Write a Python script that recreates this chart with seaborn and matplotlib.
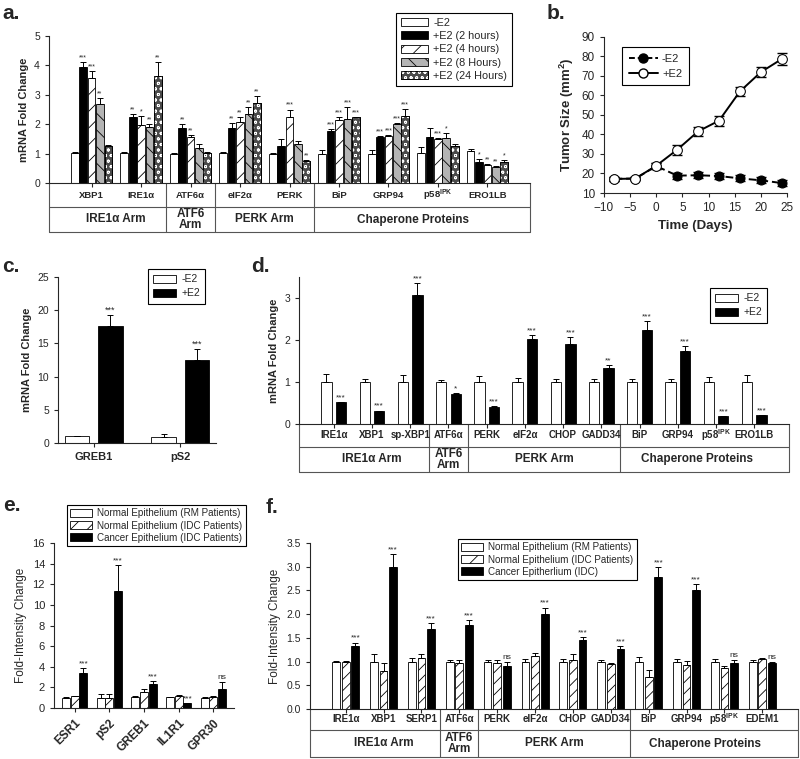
import matplotlib
matplotlib.use("Agg")
import matplotlib.pyplot as plt
from matplotlib.patches import Patch
from matplotlib.lines import Line2D
from matplotlib.ticker import FormatStrFormatter
import seaborn as sns
import pandas as pd
import numpy as np

sns.set_style("ticks")
plt.rcParams["font.family"] = ["Liberation Sans", "DejaVu Sans"]
plt.rcParams["mathtext.fontset"] = "custom"
plt.rcParams["mathtext.rm"] = "Liberation Sans"
plt.rcParams["mathtext.bf"] = "Liberation Sans:bold"
plt.rcParams["hatch.linewidth"] = 0.6
plt.rcParams["axes.linewidth"] = 0.8
plt.rcParams["xtick.major.width"] = 0.8
plt.rcParams["ytick.major.width"] = 0.8
plt.rcParams["xtick.major.size"] = 3
plt.rcParams["ytick.major.size"] = 3

# ---------------- data : panel a ----------------
a_genes = ["XBP1", "IRE1α", "ATF6α", "eIF2α", "PERK", "BiP", "GRP94", r"p58$^{\mathbf{IPK}}$", "ERO1LB"]
a_conds = ["-E2", "+E2 (2 hours)", "+E2 (4 hours)", "+E2 (8 Hours)", "+E2 (24 Hours)"]
a_minus = [1.02, 1.02, 1.00, 1.02, 1.00, 1.00, 1.00, 1.03, 1.10]
a_2h = [3.95, 2.25, 1.86, 1.86, 1.27, 1.76, 1.57, 1.57, 0.70]
a_4h = [3.57, 1.97, 1.57, 2.08, 2.23, 2.14, 1.60, 1.51, 0.60]
a_8h = [2.70, 1.92, 1.18, 2.36, 1.32, 2.19, 2.00, 1.54, 0.55]
a_24h = [1.26, 3.63, 1.02, 2.72, 0.75, 2.23, 2.27, 1.26, 0.72]
a_minus_err = [0.03, 0.02, 0.02, 0.05, 0.02, 0.12, 0.12, 0.18, 0.05]
a_2h_err = [0.15, 0.10, 0.15, 0.19, 0.21, 0.07, 0.03, 0.30, 0.10]
a_4h_err = [0.25, 0.30, 0.05, 0.17, 0.27, 0.09, 0.03, 0.03, 0.04]
a_8h_err = [0.20, 0.10, 0.15, 0.21, 0.10, 0.39, 0.05, 0.16, 0.03]
a_24h_err = [0.04, 0.47, 0.02, 0.24, 0.04, 0.02, 0.26, 0.05, 0.05]
a_minus_sig = [""] * 9
a_2h_sig = ["***", "**", "**", "**", "", "***", "***", "", "*"]
a_4h_sig = ["***", "*", "**", "**", "***", "***", "***", "***", "**"]
a_8h_sig = ["**", "**", "", "**", "", "***", "***", "*", "**"]
a_24h_sig = ["", "**", "", "**", "**", "***", "***", "", "*"]
a_groups = [("IRE1α Arm", 2), ("ATF6\nArm", 1), ("PERK Arm", 2), ("Chaperone Proteins", 4)]

# ---------------- data : panel b ----------------
b_days = [-8, -4, 0, 4, 8, 12, 16, 20, 24]
b_minus = [17.3, 17.4, 23.8, 18.9, 19.1, 18.7, 17.5, 16.5, 15.1]
b_minus_err = [1.0, 0.8, 1.5, 1.5, 1.5, 1.5, 1.5, 1.5, 1.5]
b_plus = [17.2, 17.4, 24.0, 32.2, 41.6, 47.1, 62.1, 72.0, 78.7]
b_plus_err = [1.0, 0.8, 1.5, 2.5, 2.5, 2.5, 2.5, 2.5, 3.0]

# ---------------- data : panel c ----------------
c_genes = ["GREB1", "pS2"]
c_conds = ["-E2", "+E2"]
c_minus = [1.00, 0.95]
c_plus = [17.6, 12.56]
c_minus_err = [0.10, 0.40]
c_plus_err = [1.7, 1.6]
c_plus_sig = ["***", "***"]

# ---------------- data : panel d ----------------
d_genes = ["IRE1α", "XBP1", "sp-XBP1", "ATF6α", "PERK", "eIF2α", "CHOP", "GADD34",
           "BiP", "GRP94", r"p58$^{\mathbf{IPK}}$", "ERO1LB"]
d_conds = ["-E2", "+E2"]
d_minus = [1.0, 1.0, 1.0, 1.0, 1.0, 1.0, 1.0, 1.0, 1.0, 1.0, 1.0, 1.0]
d_minus_err = [0.20, 0.08, 0.17, 0.05, 0.14, 0.10, 0.08, 0.08, 0.08, 0.08, 0.11, 0.16]
d_plus = [0.52, 0.32, 3.08, 0.71, 0.40, 2.02, 1.91, 1.33, 2.23, 1.73, 0.20, 0.22]
d_plus_err = [0.0, 0.0, 0.27, 0.03, 0.03, 0.10, 0.16, 0.07, 0.22, 0.12, 0.0, 0.0]
d_plus_sig = ["***", "***", "***", "*", "***", "***", "***", "**", "***", "***", "***", "***"]
d_groups = [("IRE1α Arm", 3), ("ATF6\nArm", 1), ("PERK Arm", 4), ("Chaperone Proteins", 4)]

# ---------------- data : panel e ----------------
e_genes = ["ESR1", "pS2", "GREB1", "IL1R1", "GPR30"]
e_conds = ["Normal Epithelium (RM Patients)", "Normal Epithelium (IDC Patients)",
           "Cancer Epithelium (IDC Patients)"]
e_rm = [1.00, 1.00, 1.07, 1.05, 1.00]
e_rm_err = [0.03, 0.33, 0.05, 0.03, 0.03]
e_idc = [1.13, 1.00, 1.52, 1.20, 1.10]
e_idc_err = [0.03, 0.40, 0.28, 0.05, 0.05]
e_cancer = [3.37, 11.36, 2.36, 0.48, 1.88]
e_cancer_err = [0.48, 2.49, 0.29, 0.0, 0.67]
e_cancer_sig = ["***", "***", "***", "***", "ns"]

# ---------------- data : panel f ----------------
f_genes = ["IRE1α", "XBP1", "SERP1", "ATF6α", "PERK", "eIF2α", "CHOP", "GADD34",
           "BiP", "GRP94", r"p58$^{\mathbf{IPK}}$", "EDEM1"]
f_conds = ["Normal Epithelium (RM Patients)", "Normal Epithelium (IDC Patients)",
           "Cancer Epitherlium (IDC)"]
f_rm = [1.0, 1.0, 1.0, 1.0, 1.0, 1.0, 1.0, 1.0, 1.0, 1.0, 1.0, 1.0]
f_rm_err = [0.02, 0.15, 0.07, 0.04, 0.04, 0.05, 0.05, 0.03, 0.09, 0.05, 0.05, 0.04]
f_idc = [1.00, 0.80, 1.08, 0.97, 0.98, 1.12, 1.04, 0.95, 0.68, 0.93, 0.86, 1.06]
f_idc_err = [0.02, 0.18, 0.09, 0.06, 0.05, 0.07, 0.12, 0.01, 0.14, 0.09, 0.04, 0.02]
f_cancer = [1.33, 3.00, 1.68, 1.77, 0.90, 2.00, 1.45, 1.27, 2.79, 2.50, 0.97, 0.96]
f_cancer_err = [0.07, 0.26, 0.14, 0.10, 0.09, 0.14, 0.07, 0.06, 0.21, 0.14, 0.06, 0.03]
f_cancer_sig = ["***", "***", "***", "***", "ns", "***", "***", "***", "***", "***", "ns", "ns"]
f_groups = [("IRE1α Arm", 3), ("ATF6\nArm", 1), ("PERK Arm", 4), ("Chaperone Proteins", 4)]

FIG_W, FIG_H = 800, 759


def fig_box(left, top, right, bottom):
    # pixel box -> figure fraction
    return [left / FIG_W, 1 - bottom / FIG_H, (right - left) / FIG_W, (bottom - top) / FIG_H]


def bar_panel(ax, genes, conds, values, errs, sigs, colors, hatches, width, gap, star_fs=5.5):
    df = pd.DataFrame({
        "gene": [g for c in conds for g in genes],
        "cond": [c for c in conds for g in genes],
        "value": [v for vals in values for v in vals],
    })
    sns.barplot(data=df, x="gene", y="value", hue="cond", order=genes, hue_order=conds,
                palette=dict(zip(conds, colors)), errorbar=None, width=width, gap=gap,
                edgecolor="black", linewidth=0.6, legend=False, ax=ax, zorder=2)

    def offset(cont):
        p = cont.patches[0]
        cx = p.get_x() + p.get_width() / 2
        return cx - round(cx)

    conts = sorted(list(ax.containers), key=offset)
    ymax = ax.get_ylim()[1]
    for k, cont in enumerate(conts):
        xs, tops, ers = [], [], []
        for p in cont.patches:
            cx = p.get_x() + p.get_width() / 2
            gi = int(round(cx))
            xs.append(cx)
            tops.append(p.get_height())
            ers.append(errs[k][gi])
            p.set_facecolor(colors[k])
            if hatches[k] == "check":
                # dotted pattern drawn on top of the dark face
                ax.bar(cx, p.get_height(), width=p.get_width(), color="none", edgecolor="white",
                       hatch="ooo", linewidth=0, zorder=2.1)
                ax.bar(cx, p.get_height(), width=p.get_width(), fill=False, edgecolor="black",
                       linewidth=0.6, zorder=2.2)
            elif hatches[k]:
                p.set_hatch(hatches[k])
            s = sigs[k][gi]
            if s:
                ax.text(cx, p.get_height() + errs[k][gi] + 0.005 * ymax, s, ha="center",
                        va="bottom", fontsize=star_fs, zorder=4)
        ax.errorbar(xs, tops, yerr=[np.zeros(len(ers)), ers], fmt="none", ecolor="black",
                    elinewidth=0.7, capsize=2.2, capthick=0.7, zorder=3)
    ax.set_xlabel("")
    sns.despine(ax=ax)


def draw_table(ax, labels, groups, h1, h2, fs1=6.5, fs2=8.5):
    trans = ax.get_xaxis_transform()
    line_kw = dict(color="#555555", lw=0.8, clip_on=False)
    ax.tick_params(axis="x", labelbottom=False)
    for i, lab in enumerate(labels):
        ax.text(i, -h1 / 2, lab, transform=trans, ha="center", va="center",
                fontsize=fs1, fontweight="bold")
    start = 0
    n = len(labels)
    for name, count in groups:
        mid = start + (count - 1) / 2
        ax.text(mid, -h1 - h2 / 2, name, transform=trans, ha="center", va="center",
                fontsize=fs2, fontweight="bold", linespacing=0.95)
        start += count
        if start < n:
            ax.plot([start - 0.5, start - 0.5], [0, -h1 - h2], transform=trans, **line_kw)
    ax.plot([0, 0], [0, -h1 - h2], transform=ax.transAxes, **line_kw)
    ax.plot([1, 1], [0, -h1 - h2], transform=ax.transAxes, **line_kw)
    ax.plot([0, 1], [-h1, -h1], transform=ax.transAxes, **line_kw)
    ax.plot([0, 1], [-h1 - h2, -h1 - h2], transform=ax.transAxes, **line_kw)


def box_legend(ax, handles, labels, x, y, fs, **kw):
    leg = ax.legend(handles, labels, loc="upper left", bbox_to_anchor=(x / FIG_W, 1 - y / FIG_H),
                    bbox_transform=fig.transFigure, frameon=True, fancybox=False,
                    edgecolor="black", framealpha=1, fontsize=fs, borderaxespad=0, **kw)
    leg.get_frame().set_linewidth(0.8)
    return leg


def patch_handles(colors, hatches):
    hs = []
    for c, h in zip(colors, hatches):
        if h == "check":
            hs.append((Patch(facecolor=c, edgecolor="black", lw=0.6),
                       Patch(facecolor="none", edgecolor="white", hatch="ooo", lw=0),
                       Patch(fill=False, edgecolor="black", lw=0.6)))
        else:
            hs.append(Patch(facecolor=c, edgecolor="black", hatch=h, lw=0.6))
    return hs


fig = plt.figure(figsize=(8, 7.59), dpi=100)

# ---------------- panel a ----------------
ax_a = fig.add_axes(fig_box(49, 36, 530, 183))
a_colors = ["white", "black", "white", "#b4b4b4", "#4a4a4a"]
a_hatches = [None, None, "//", "\\\\", "check"]
bar_panel(ax_a, a_genes, a_conds, [a_minus, a_2h, a_4h, a_8h, a_24h],
          [a_minus_err, a_2h_err, a_4h_err, a_8h_err, a_24h_err],
          [a_minus_sig, a_2h_sig, a_4h_sig, a_8h_sig, a_24h_sig],
          a_colors, a_hatches, width=0.85, gap=0.08, star_fs=5)
ax_a.set_ylim(0, 5)
ax_a.set_yticks(range(0, 6))
ax_a.tick_params(axis="y", labelsize=7.5)
ax_a.set_ylabel("mRNA Fold Change", fontsize=8, fontweight="bold")
draw_table(ax_a, a_genes, a_groups, 24 / 147, 25 / 147, fs1=6.8)
box_legend(ax_a, patch_handles(a_colors, a_hatches), a_conds, 396, 13, 7.8,
           handlelength=2.5, handleheight=0.75, labelspacing=0.3, borderpad=0.45,
           handletextpad=0.5)

# ---------------- panel b ----------------
ax_b = fig.add_axes(fig_box(604, 37, 787, 193))
ax_b.errorbar(b_days, b_minus, yerr=b_minus_err, fmt="none", ecolor="black",
              elinewidth=1.0, capsize=3.5, capthick=1.0, zorder=2)
sns.lineplot(x=b_days, y=b_minus, ax=ax_b, color="black", linestyle=(0, (4, 2)), lw=1.4,
             marker="o", markersize=6.5, markerfacecolor="black", markeredgecolor="black", zorder=3)
ax_b.errorbar(b_days, b_plus, yerr=b_plus_err, fmt="none", ecolor="black",
              elinewidth=1.0, capsize=3.5, capthick=1.0, zorder=4)
sns.lineplot(x=b_days, y=b_plus, ax=ax_b, color="black", lw=1.4, marker="o", markersize=7,
             markerfacecolor="white", markeredgecolor="black", zorder=5)
ax_b.set_xlim(-10, 25)
ax_b.set_ylim(10, 90)
ax_b.set_xticks(range(-10, 30, 5))
ax_b.set_yticks(range(10, 100, 10))
ax_b.tick_params(labelsize=8.5)
ax_b.set_xlabel("Time (Days)", fontsize=9.5, fontweight="bold")
ax_b.set_ylabel(r"Tumor Size (mm$^{\mathbf{2}}$)", fontsize=9.5, fontweight="bold")
sns.despine(ax=ax_b)
b_handles = [Line2D([], [], color="black", linestyle=(0, (3, 1.5)), lw=1.4, marker="o",
                    markersize=6.5, markerfacecolor="black"),
             Line2D([], [], color="black", lw=1.4, marker="o", markersize=6.5,
                    markerfacecolor="white")]
box_legend(ax_b, b_handles, ["-E2", "+E2"], 622, 47, 8, handlelength=2.6,
           labelspacing=0.45, borderpad=0.6, handletextpad=0.4)

# ---------------- panel c ----------------
ax_c = fig.add_axes(fig_box(58, 277, 216, 443))
bar_panel(ax_c, c_genes, c_conds, [c_minus, c_plus], [c_minus_err, c_plus_err],
          [["", ""], c_plus_sig], ["white", "black"], [None, None], width=0.77, gap=0.27,
          star_fs=6.5)
ax_c.set_ylim(0, 25)
ax_c.set_yticks(range(0, 30, 5))
ax_c.tick_params(axis="y", labelsize=7.5)
ax_c.tick_params(axis="x", labelsize=8, length=3)
for t in ax_c.get_xticklabels():
    t.set_fontweight("bold")
ax_c.set_ylabel("mRNA Fold Change", fontsize=8, fontweight="bold")
box_legend(ax_c, patch_handles(["white", "black"], [None, None]), c_conds, 148, 269, 7.5,
           handlelength=2.2, handleheight=0.8, labelspacing=0.4, borderpad=0.5,
           handletextpad=0.5)

# ---------------- panel d ----------------
ax_d = fig.add_axes(fig_box(299, 277, 789, 424))
bar_panel(ax_d, d_genes, d_conds, [d_minus, d_plus], [d_minus_err, d_plus_err],
          [[""] * 12, d_plus_sig], ["white", "black"], [None, None], width=0.76, gap=0.29,
          star_fs=6)
ax_d.set_ylim(0, 3.5)
ax_d.set_yticks(range(0, 4))
ax_d.tick_params(axis="y", labelsize=7.5)
ax_d.set_ylabel("mRNA Fold Change", fontsize=8, fontweight="bold")
draw_table(ax_d, d_genes, d_groups, 23 / 147, 25 / 147, fs1=7)
box_legend(ax_d, patch_handles(["white", "black"], [None, None]), d_conds, 710, 288, 7.5,
           handlelength=2.2, handleheight=0.8, labelspacing=0.4, borderpad=0.5,
           handletextpad=0.5)

# ---------------- panel e ----------------
ax_e = fig.add_axes(fig_box(54, 543, 234, 708))
e_colors = ["white", "white", "black"]
e_hatches = [None, "///", None]
bar_panel(ax_e, e_genes, e_conds, [e_rm, e_idc, e_cancer], [e_rm_err, e_idc_err, e_cancer_err],
          [[""] * 5, [""] * 5, e_cancer_sig], e_colors, e_hatches, width=0.75, gap=0.1,
          star_fs=6)
ax_e.set_ylim(0, 16)
ax_e.set_yticks(range(0, 18, 2))
ax_e.tick_params(axis="y", labelsize=8)
ax_e.set_xticks(range(len(e_genes)))
ax_e.set_xticklabels(e_genes, rotation=45, ha="right", rotation_mode="anchor",
                     fontsize=8.5, fontweight="bold")
ax_e.set_ylabel("Fold-Intensity Change", fontsize=8.5)
box_legend(ax_e, patch_handles(e_colors, ["//" if h else None for h in e_hatches]), e_conds,
           67, 505, 7.1, handlelength=2.2, handleheight=0.85, labelspacing=0.22,
           borderpad=0.35, handletextpad=0.5)

# ---------------- panel f ----------------
ax_f = fig.add_axes(fig_box(310, 543, 798, 709))
bar_panel(ax_f, f_genes, f_conds, [f_rm, f_idc, f_cancer], [f_rm_err, f_idc_err, f_cancer_err],
          [[""] * 12, [""] * 12, f_cancer_sig], e_colors, e_hatches, width=0.765, gap=0.2,
          star_fs=6)
ax_f.set_ylim(0, 3.5)
ax_f.set_yticks(np.arange(0, 3.6, 0.5))
ax_f.yaxis.set_major_formatter(FormatStrFormatter("%.1f"))
ax_f.tick_params(axis="y", labelsize=7.5)
ax_f.set_ylabel("Fold-Intensity Change", fontsize=8.5)
draw_table(ax_f, f_genes, f_groups, 21 / 166, 27 / 166, fs1=7)
box_legend(ax_f, patch_handles(e_colors, ["//" if h else None for h in e_hatches]), f_conds,
           458, 539, 7.1, handlelength=2.2, handleheight=0.85, labelspacing=0.22,
           borderpad=0.35, handletextpad=0.5)

# ---------------- panel letters ----------------
for letter, x, y in [("a.", 2, 4), ("b.", 547, 4), ("c.", 2, 257), ("d.", 251, 257),
                     ("e.", 3, 496), ("f.", 266, 498)]:
    fig.text(x / FIG_W, 1 - y / FIG_H, letter, fontsize=15, fontweight="bold", va="top")

fig.savefig("out.png", dpi=100)
